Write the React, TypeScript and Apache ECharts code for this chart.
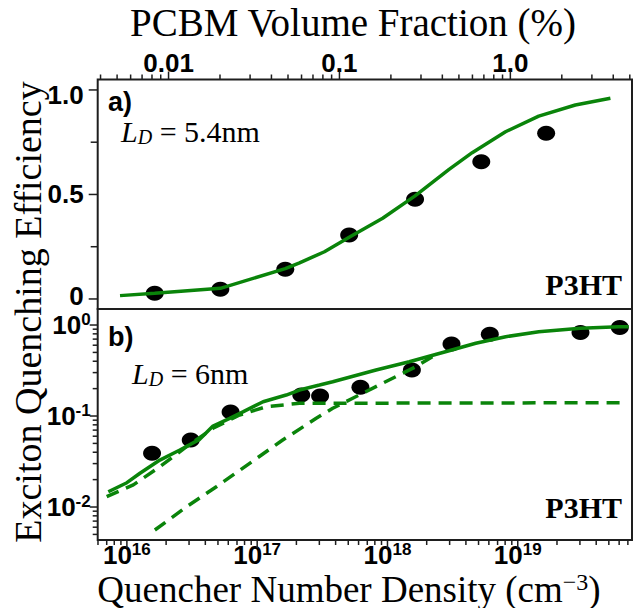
import React, { useEffect, useRef } from 'react';
import * as echarts from 'echarts';

// ---------- Panel a (top axis: PCBM volume fraction, %) ----------
const aFraction = [0.0083, 0.0201, 0.0482, 0.114, 0.277, 0.676, 1.62];
const aEfficiency = [0.027, 0.046, 0.142, 0.306, 0.477, 0.656, 0.793];
const aFitFraction = [0.0052, 0.0083, 0.0201, 0.0482, 0.0584, 0.0817, 0.114, 0.179, 0.277, 0.438, 0.598, 0.937, 1.466, 2.4, 3.85];
const aFitEfficiency = [0.016, 0.027, 0.051, 0.145, 0.173, 0.226, 0.295, 0.386, 0.493, 0.62, 0.7, 0.8, 0.875, 0.928, 0.96];

// ---------- Panel b (bottom axis: quencher number density, cm^-3) ----------
const bDensity = [1.56e16, 3.09e16, 6.25e16, 2.18e17, 3.04e17, 6.2e17, 1.54e18, 3.1e18, 6.1e18, 3.03e19, 6.07e19];
const bEfficiency = [0.039, 0.0545, 0.111, 0.17, 0.166, 0.207, 0.32, 0.618, 0.79, 0.83, 0.94];
const bFitDensity = [7.2e15, 1.0e16, 1.26e16, 1.79e16, 2.55e16, 3.62e16, 4.58e16, 6.15e16, 7.77e16, 1.11e17, 1.67e17, 2.11e17, 3.01e17, 3.8e17, 8.17e17, 1.47e18, 2.97e18, 4.76e18, 8.08e18, 1.45e19, 3.03e19, 5.96e19, 7.1e19];
const bFitEfficiency = [0.0147, 0.0185, 0.0235, 0.0328, 0.0423, 0.0554, 0.0776, 0.0944, 0.111, 0.1436, 0.17, 0.193, 0.219, 0.238, 0.32, 0.395, 0.522, 0.63, 0.744, 0.844, 0.92, 0.958, 0.958];
const bDash1Density = [7.0e15, 1.12e16, 1.79e16, 2.87e16, 4.58e16, 7.33e16, 1.17e17, 2.11e17, 6.14e19];
const bDash1Efficiency = [0.013, 0.0175, 0.0277, 0.046, 0.0733, 0.1025, 0.1265, 0.138, 0.14];
const bDash2Density = [1.64e16, 2.87e16, 4.86e16, 8.75e16, 1.57e17, 2.84e17, 3.8e17, 5.41e17, 9.17e17, 1.65e18, 2.21e18];
const bDash2Efficiency = [0.00559, 0.01007, 0.0167, 0.0302, 0.0545, 0.0944, 0.1216, 0.1566, 0.229, 0.348, 0.448];

// ---------- Axis ticks ----------
const aXMajorTicks = [0.01, 0.1, 1];
const aXMinorTicks = [0.004, 0.005, 0.006, 0.007, 0.008, 0.009, 0.02, 0.03, 0.04, 0.05, 0.06, 0.07, 0.08, 0.09, 0.2, 0.3, 0.4, 0.5, 0.6, 0.7, 0.8, 0.9, 2, 3, 4, 5];
const aYMajorTicks = [0, 0.5, 1];
const aYMinorTicks = [0.25, 0.75];
const bXMajorTicks = [1e16, 1e17, 1e18, 1e19];
const bXMinorTicks = [6e15, 7e15, 8e15, 9e15, 2e16, 3e16, 4e16, 5e16, 6e16, 7e16, 8e16, 9e16, 2e17, 3e17, 4e17, 5e17, 6e17, 7e17, 8e17, 9e17, 2e18, 3e18, 4e18, 5e18, 6e18, 7e18, 8e18, 9e18, 2e19, 3e19, 4e19, 5e19, 6e19, 7e19];
const bYMajorTicks = [0.01, 0.1, 1];
const bYMinorTicks = [0.005, 0.006, 0.007, 0.008, 0.009, 0.02, 0.03, 0.04, 0.05, 0.06, 0.07, 0.08, 0.09, 0.2, 0.3, 0.4, 0.5, 0.6, 0.7, 0.8, 0.9];

const GREEN = '#0a840a';
const FRAME = '#1e1e1e';
const SERIF = 'Liberation Serif, serif';
const SANS = 'Liberation Sans, Arial, sans-serif';

const zip = (xs: number[], ys: number[]) => xs.map((x, i) => [x, ys[i]]);

const isDecade = (v: number) => {
  const e = Math.log10(v);
  return Math.abs(e - Math.round(e)) < 1e-6;
};

const powLabel = (v: number) => {
  if (!(v > 0) || !isDecade(v)) return '';
  return `{b|10}{s|${Math.round(Math.log10(v))}}`;
};

const powRich = {
  b: { fontFamily: SANS, fontWeight: 'bold', fontSize: 26, lineHeight: 22, color: '#000' },
  s: { fontFamily: SANS, fontWeight: 'bold', fontSize: 17, lineHeight: 14, color: '#000', padding: [0, 0, 12, 0] },
};

function tickSeries(xAxisIndex: number, yAxisIndex: number, data: number[][], side: string, len: number) {
  return {
    type: 'custom',
    xAxisIndex,
    yAxisIndex,
    silent: true,
    clip: false,
    z: 6,
    data,
    renderItem: (params: any, api: any) => {
      const cs = params.coordSys;
      const p = api.coord([api.value(0), api.value(1)]);
      let shape;
      if (side === 'top') shape = { x1: p[0], y1: cs.y, x2: p[0], y2: cs.y - len };
      else if (side === 'bottom') shape = { x1: p[0], y1: cs.y + cs.height, x2: p[0], y2: cs.y + cs.height + len };
      else shape = { x1: cs.x, y1: p[1], x2: cs.x - len, y2: p[1] };
      return { type: 'line', shape, style: { stroke: FRAME, lineWidth: 1.5 } };
    },
  };
}

const ldRich = {
  i: { fontFamily: SERIF, fontStyle: 'italic', fontWeight: 'normal', fontSize: 30, lineHeight: 26, fill: '#000' },
  d: { fontFamily: SERIF, fontStyle: 'italic', fontWeight: 'normal', fontSize: 20, lineHeight: 16, fill: '#000', padding: [11, 0, 0, 0] },
  r: { fontFamily: SERIF, fontStyle: 'normal', fontWeight: 'normal', fontSize: 30, lineHeight: 26, fill: '#000' },
};

const titleRich = (size: number, lh: number) => ({
  t: { fontFamily: SERIF, fontStyle: 'normal', fontWeight: 'normal', fontSize: size, lineHeight: lh, fill: '#000' },
  sup: { fontFamily: SERIF, fontStyle: 'normal', fontWeight: 'normal', fontSize: 24, lineHeight: 14, fill: '#000', padding: [0, 0, 14, 0] },
});

const aYLabel = (v: number) => {
  if (Math.abs(v) < 1e-9) return '{zero|0}';
  if (Math.abs(v - 0.5) < 1e-9) return '0.5';
  if (Math.abs(v - 1) < 1e-9) return '{top|1.0}';
  return '';
};

export default function App() {
  const ref = useRef<HTMLDivElement>(null);

  useEffect(() => {
    if (!ref.current) return;
    const chart = echarts.init(ref.current, undefined, { renderer: 'svg' });

    const option: any = {
      animation: false,
      backgroundColor: '#fff',
      grid: [
        { left: 97.7, top: 79.5, width: 535.6, height: 229.5, show: true, borderColor: FRAME, borderWidth: 2, backgroundColor: 'transparent' },
        { left: 97.7, top: 309, width: 535.6, height: 231, show: true, borderColor: FRAME, borderWidth: 2, backgroundColor: 'transparent' },
      ],
      xAxis: [
        {
          gridIndex: 0, type: 'log', logBase: 10, position: 'top', min: 0.00385, max: 5.15,
          axisLine: { show: false }, axisTick: { show: false }, splitLine: { show: false },
          axisLabel: {
            margin: 6, color: '#000', fontFamily: SANS, fontWeight: 'bold', fontSize: 26, lineHeight: 22,
            formatter: (v: number) => (isDecade(v) ? (v >= 1 ? v.toFixed(1) : String(+v.toPrecision(1))) : ''),
          },
        },
        {
          gridIndex: 1, type: 'log', logBase: 10, min: 5.97e15, max: 7.53e19,
          axisLine: { show: false }, axisTick: { show: false }, splitLine: { show: false },
          axisLabel: { margin: 4, formatter: powLabel, rich: powRich },
        },
      ],
      yAxis: [
        {
          gridIndex: 0, type: 'value', min: -0.048, max: 1.05, splitNumber: 2,
          axisLine: { show: false }, axisTick: { show: false }, splitLine: { show: false },
          axisLabel: {
            margin: 14, color: '#000', fontFamily: SANS, fontWeight: 'bold', fontSize: 26, lineHeight: 20,
            formatter: aYLabel,
            rich: {
              top: { fontFamily: SANS, fontWeight: 'bold', fontSize: 26, lineHeight: 20, color: '#000', padding: [10, 0, 0, 0] },
              zero: { fontFamily: SANS, fontWeight: 'bold', fontSize: 26, lineHeight: 20, color: '#000', padding: [0, 0, 6, 0] },
            },
          },
        },
        {
          gridIndex: 1, type: 'log', logBase: 10, min: 0.00434, max: 1.5,
          axisLine: { show: false }, axisTick: { show: false }, splitLine: { show: false },
          axisLabel: { margin: 7, formatter: powLabel, rich: powRich },
        },
      ],
      graphic: [
        { type: 'text', x: 28, y: 312, rotation: Math.PI / 2, style: { text: '{t|Exciton Quenching Efficiency}', rich: titleRich(38, 30), fill: '#000', align: 'center', verticalAlign: 'middle' } },
        { type: 'text', x: 353, y: 22, style: { text: '{t|PCBM Volume Fraction (%)}', rich: titleRich(39, 32), fill: '#000', align: 'center', verticalAlign: 'middle' } },
        { type: 'text', x: 349, y: 589, style: { text: '{t|Quencher Number Density (cm}{sup|\u22123}{t|)}', rich: titleRich(37, 30), fill: '#000', align: 'center', verticalAlign: 'middle' } },
        { type: 'text', x: 108, y: 102, style: { text: 'a)', fontFamily: SANS, fontWeight: 'bold', fontSize: 27, fill: '#000', align: 'left', verticalAlign: 'middle' } },
        { type: 'text', x: 108, y: 337, style: { text: 'b)', fontFamily: SANS, fontWeight: 'bold', fontSize: 27, fill: '#000', align: 'left', verticalAlign: 'middle' } },
        { type: 'text', x: 121, y: 131, style: { text: '{i|L}{d|D}{r| = 5.4nm}', align: 'left', verticalAlign: 'middle', fill: '#000', rich: ldRich } },
        { type: 'text', x: 132, y: 373, style: { text: '{i|L}{d|D}{r| = 6nm}', align: 'left', verticalAlign: 'middle', fill: '#000', rich: ldRich } },
        { type: 'text', x: 622, y: 284, style: { text: 'P3HT', fontFamily: SERIF, fontWeight: 'bold', fontSize: 30, fill: '#000', align: 'right', verticalAlign: 'middle' } },
        { type: 'text', x: 622, y: 507, style: { text: 'P3HT', fontFamily: SERIF, fontWeight: 'bold', fontSize: 30, fill: '#000', align: 'right', verticalAlign: 'middle' } },
      ],
      series: [
        {
          name: 'a data', type: 'scatter', xAxisIndex: 0, yAxisIndex: 0, z: 2,
          symbol: 'circle', symbolSize: [18, 15], itemStyle: { color: '#000', opacity: 1 },
          data: zip(aFraction, aEfficiency),
        },
        {
          name: 'a fit', type: 'line', xAxisIndex: 0, yAxisIndex: 0, z: 3, showSymbol: false, symbol: 'none',
          lineStyle: { color: GREEN, width: 3.5 }, data: zip(aFitFraction, aFitEfficiency),
        },
        {
          name: 'b data', type: 'scatter', xAxisIndex: 1, yAxisIndex: 1, z: 2,
          symbol: 'circle', symbolSize: [18, 15], itemStyle: { color: '#000', opacity: 1 },
          data: zip(bDensity, bEfficiency),
        },
        {
          name: 'b fit', type: 'line', xAxisIndex: 1, yAxisIndex: 1, z: 3, showSymbol: false, symbol: 'none',
          lineStyle: { color: GREEN, width: 3.5 }, data: zip(bFitDensity, bFitEfficiency),
        },
        {
          name: 'b dash 1', type: 'line', xAxisIndex: 1, yAxisIndex: 1, z: 3, showSymbol: false, symbol: 'none',
          lineStyle: { color: GREEN, width: 3.5, type: [13, 8] }, data: zip(bDash1Density, bDash1Efficiency),
        },
        {
          name: 'b dash 2', type: 'line', xAxisIndex: 1, yAxisIndex: 1, z: 3, showSymbol: false, symbol: 'none',
          lineStyle: { color: GREEN, width: 3.5, type: [13, 8] }, data: zip(bDash2Density, bDash2Efficiency),
        },
        tickSeries(0, 0, aXMajorTicks.map((v) => [v, 0.5]), 'top', 8),
        tickSeries(0, 0, aXMinorTicks.map((v) => [v, 0.5]), 'top', 5),
        tickSeries(0, 0, aYMajorTicks.map((v) => [0.01, v]), 'left', 9),
        tickSeries(0, 0, aYMinorTicks.map((v) => [0.01, v]), 'left', 7),
        tickSeries(1, 1, bXMajorTicks.map((v) => [v, 0.1]), 'bottom', 8),
        tickSeries(1, 1, bXMinorTicks.map((v) => [v, 0.1]), 'bottom', 5),
        tickSeries(1, 1, bYMajorTicks.map((v) => [1e17, v]), 'left', 8),
        tickSeries(1, 1, bYMinorTicks.map((v) => [1e17, v]), 'left', 5),
      ],
    };

    chart.setOption(option);
    return () => chart.dispose();
  }, []);

  return <div ref={ref} style={{ position: 'fixed', left: 0, top: 0, width: 635, height: 608, background: '#fff' }} />;
}
